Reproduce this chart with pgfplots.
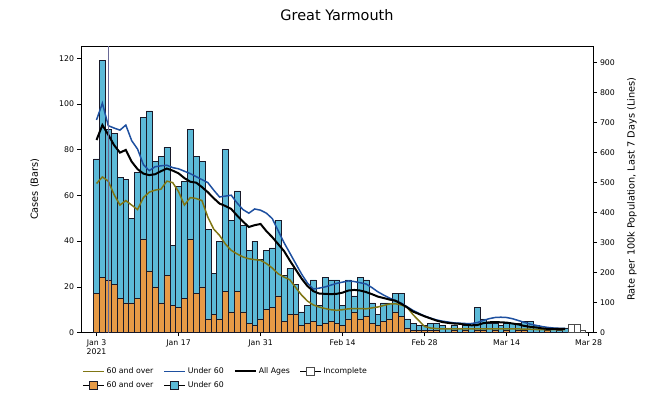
\documentclass[border=0pt]{standalone}
\usepackage{fontspec}
\setmainfont{DejaVu Sans}
\usepackage{pgfplots}
\usepackage{pgfplotstable}
\pgfplotsset{compat=1.18}

\definecolor{overbar}{RGB}{230,154,70}
\definecolor{underbar}{RGB}{92,186,216}
\definecolor{baredge}{RGB}{25,25,40}
\definecolor{overln}{RGB}{128,118,20}
\definecolor{underln}{RGB}{30,80,160}
\definecolor{restln}{RGB}{105,105,150}
\newcommand{\tickfont}{\fontsize{7.8}{9.2}\selectfont}

% daily cases, day 0 = 3 Jan 2021
\pgfplotstableread{
day over under
0 17 59
1 24 95
2 23 66
3 21 66
4 15 53
5 13 54
6 13 37
7 15 55
8 41 53
9 27 70
10 20 55
11 13 64
12 25 56
13 12 26
14 11 53
15 15 51
16 41 48
17 17 60
18 20 55
19 6 39
20 8 18
21 6 34
22 18 62
23 9 40
24 18 44
25 9 38
26 4 32
27 3 37
28 6 26
29 10 26
30 11 26
31 16 33
32 5 20
33 8 20
34 8 13
35 3 6
36 4 8
37 5 18
38 3 9
39 4 20
40 5 18
41 4 19
42 3 9
43 6 17
44 9 7
45 6 18
46 7 16
47 4 9
48 3 5
49 5 8
50 6 7
51 9 8
52 7 10
53 2 4
54 1 3
55 1 2
56 1 2
57 1 3
58 1 3
59 0 3
60 0 2
61 1 2
62 0 2
63 1 2
64 0 3
65 1 10
66 1 5
67 0 4
68 1 3
69 0 3
70 1 3
71 0 4
72 1 3
73 1 4
74 0 5
75 0 3
76 0 2
77 1 1
78 0 2
79 0 1
80 0 2
}\cases

\pgfplotstableread{
day inc
81 3.5
82 3.5
83 1
}\incomplete

% rate per 100k, last 7 days
\pgfplotstableread{
day over under all
0 497 709 642
1 519 765 692
2 505 690 660
3 460 682 625
4 425 675 600
5 440 692 609
6 425 640 570
7 410 612 545
8 450 560 530
9 468 540 525
10 475 553 528
11 478 556 538
12 505 558 547
13 500 550 540
14 470 546 531
15 425 538 515
16 450 530 503
17 447 520 500
18 440 510 485
19 385 500 468
20 345 475 448
21 324 452 430
22 295 455 422
23 274 458 412
24 262 432 390
25 252 410 370
26 246 398 352
27 243 412 358
28 241 408 362
29 230 398 338
30 215 380 318
31 196 340 295
32 185 300 272
33 176 265 240
34 150 230 210
35 125 195 180
36 105 165 155
37 92 145 138
38 85 148 130
39 80 152 129
40 76 158 128
41 74 164 129
42 76 168 133
43 79 172 140
44 80 170 142
45 80 166 140
46 79 162 135
47 82 150 128
48 85 136 120
49 90 125 115
50 95 115 110
51 96 107 106
52 92 98 96
53 85 86 84
54 60 74 70
55 40 64 62
56 20 55 54
57 15 48 47
58 13 42 40
59 12 38 35
60 12 35 32
61 12 32 30
62 12 31 29
63 12 30 26
64 12 30 24
65 12 33 25
66 12 40 31
67 12 46 34
68 12 50 35
69 12 51 34
70 12 50 33
71 12 46 30
72 12 40 27
73 11 34 22
74 11 28 19
75 10 24 17
76 10 20 14
77 10 17 12
78 10 15 12
79 10 14 12
80 10 14 12
}\rates

\begin{document}
\begin{tikzpicture}
\pgfplotsset{
  common/.style={
    scale only axis, width=512bp, height=286.5bp,
    xmin=-2.65, xmax=84.75, ymin=0,
    tick align=outside, major tick length=3.5bp,
    tick style={line width=0.6bp, black},
    axis line style={line width=0.6bp},
    /pgf/number format/assume math mode=true,
    ticklabel style={font=\tickfont},
  },
}
% bars, left axis
\begin{axis}[common, name=main,
  ymax=125.4,
  ybar stacked, bar width=1,
  xtick={0,14,28,42,56,70,84},
  xticklabels={{Jan 3\\2021},{Jan 17},{Jan 31},{Feb 14},{Feb 28},{Mar 14},{Mar 28}},
  xticklabel style={align=center},
  xtick pos=lower, ytick pos=left,
  ytick={0,20,...,120},
  ylabel={Cases (Bars)},
  ylabel style={at={(axis description cs:-0.09,0.5)}, anchor=center, font=\fontsize{9.8}{11}\selectfont},
  title={Great Yarmouth},
  title style={at={(axis description cs:0.5,1.088)}, anchor=center, font=\fontsize{14.5}{16}\selectfont},
]
\addplot[fill=overbar, draw=baredge, line width=0.5bp] table[x=day, y=over]{\cases};
\addplot[fill=underbar, draw=baredge, line width=0.5bp] table[x=day, y=under]{\cases};
\end{axis}

% incomplete days
\begin{axis}[common, hide axis, ymax=125.4, ybar, bar width=1]
\addplot[fill=white, draw=gray!60!black, line width=0.5bp] table[x=day, y=inc]{\incomplete};
\end{axis}

% rates, right axis
\begin{axis}[common,
  ymax=955.7,
  axis x line=none, axis y line*=right,
  ytick={0,100,...,900},
  ylabel={Rate per 100k Population, Last 7 Days (Lines)},
  ylabel style={at={(axis description cs:1.076,0.5)}, anchor=center, font=\fontsize{9.8}{11}\selectfont},
  legend columns=4,
  legend style={draw=none, fill=none, at={(axis description cs:-0.004,-0.108)}, anchor=north west,
    font=\fontsize{7.8}{8.5}\selectfont, row sep=2.5bp,
    /tikz/every even column/.append style={column sep=8bp}},
]
\addlegendimage{legend image code/.code={\draw[overln, line width=1.5bp] (0bp,0bp) -- (21bp,0bp);}}
\addlegendentry{60 and over}
\addlegendimage{legend image code/.code={\draw[underln, line width=1.5bp] (0bp,0bp) -- (21bp,0bp);}}
\addlegendentry{Under 60}
\addlegendimage{legend image code/.code={\draw[black, line width=2bp] (0bp,0bp) -- (21bp,0bp);}}
\addlegendentry{All Ages}
\addlegendimage{legend image code/.code={\path (0bp,0bp) -- (21bp,0bp); \draw[fill=white, draw=gray!60!black, line width=0.6bp] (6.5bp,-4bp) rectangle (14.5bp,4bp);}}
\addlegendentry{Incomplete}
\addlegendimage{legend image code/.code={\path (0bp,0bp) -- (21bp,0bp); \draw[fill=overbar, draw=baredge, line width=0.6bp] (6.5bp,-4bp) rectangle (14.5bp,4bp);}}
\addlegendentry{60 and over}
\addlegendimage{legend image code/.code={\path (0bp,0bp) -- (21bp,0bp); \draw[fill=underbar, draw=baredge, line width=0.6bp] (6.5bp,-4bp) rectangle (14.5bp,4bp);}}
\addlegendentry{Under 60}

\addplot[overln, line width=1.5bp, forget plot] table[x=day, y=over]{\rates};
\addplot[underln, line width=1.5bp, forget plot] table[x=day, y=under]{\rates};
\addplot[black, line width=2bp, forget plot] table[x=day, y=all]{\rates};
\addplot[restln, line width=1bp, forget plot] coordinates {(2,0) (2,955.7)};
\node[anchor=base, font=\fontsize{7}{8}\selectfont, yshift=7bp] at (axis cs:2,955.7) {Nat Rest Start};
\end{axis}

\pgfresetboundingbox
\path (main.south west) ++(-81bp,-60.5bp) rectangle ++(648bp,393bp);
\end{tikzpicture}
\end{document}
